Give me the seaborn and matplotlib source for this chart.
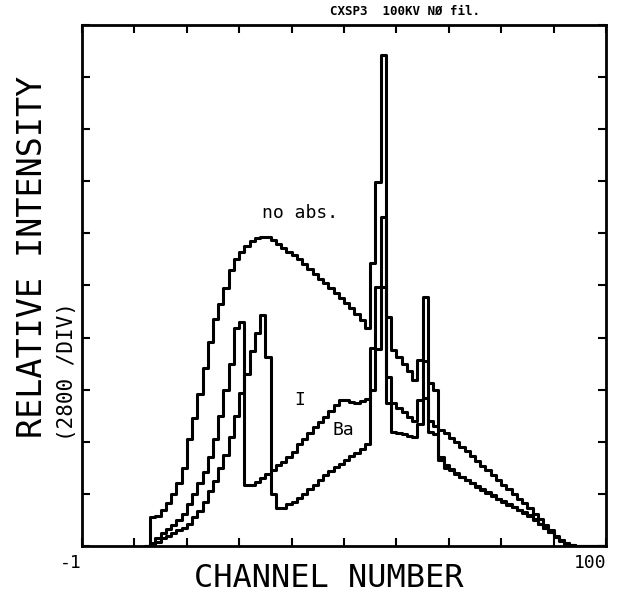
import numpy as np
import pandas as pd
import matplotlib
matplotlib.use("Agg")
import matplotlib.pyplot as plt
import seaborn as sns

# ---- data (relative intensity in divisions of 2800 counts) ----
channels = list(range(12, 101))

no_abs = [0.00,
          0.56, 0.58, 0.70, 0.82, 1.00, 1.20, 1.50, 2.05, 2.45, 2.92,
          3.42, 3.92, 4.35, 4.65, 4.95, 5.30, 5.50, 5.65, 5.76, 5.85,
          5.92, 5.94, 5.93, 5.87, 5.80, 5.72, 5.65, 5.58, 5.50, 5.42,
          5.32, 5.22, 5.12, 5.04, 4.95, 4.86, 4.76, 4.66, 4.56, 4.46,
          4.34, 4.18, 5.43, 6.99, 9.43, 4.40, 3.76, 3.62, 3.50, 3.36,
          3.18, 3.57, 4.78, 3.13, 2.99, 2.23, 2.16, 2.08, 2.00, 1.90,
          1.82, 1.72, 1.63, 1.54, 1.45, 1.36, 1.27, 1.18, 1.09, 1.00,
          0.91, 0.82, 0.73, 0.62, 0.51, 0.40, 0.30, 0.20, 0.12, 0.05,
          0.02, 0.00, 0.00, 0.00, 0.00, 0.00, 0.00, 0.00]

iodine = [0.00,
          0.05, 0.15, 0.25, 0.33, 0.40, 0.50, 0.62, 0.80, 1.00, 1.20,
          1.42, 1.70, 2.05, 2.50, 3.00, 3.50, 4.18, 4.30, 1.17, 1.17,
          1.22, 1.30, 1.38, 1.46, 1.55, 1.62, 1.71, 1.80, 1.95, 2.05,
          2.17, 2.28, 2.38, 2.48, 2.60, 2.70, 2.80, 2.80, 2.76, 2.74,
          2.78, 2.82, 3.80, 4.97, 6.31, 3.24, 2.74, 2.65, 2.57, 2.48,
          2.40, 2.80, 3.55, 2.40, 2.30, 1.71, 1.55, 1.47, 1.40, 1.33,
          1.27, 1.21, 1.15, 1.09, 1.03, 0.97, 0.91, 0.86, 0.80, 0.75,
          0.70, 0.65, 0.59, 0.51, 0.43, 0.35, 0.27, 0.18, 0.11, 0.05,
          0.01, 0.00, 0.00, 0.00, 0.00, 0.00, 0.00, 0.00]

barium = [0.00,
          0.03, 0.08, 0.15, 0.20, 0.25, 0.30, 0.35, 0.42, 0.55, 0.68,
          0.85, 1.05, 1.25, 1.50, 1.75, 2.10, 2.50, 2.94, 3.30, 3.75,
          4.09, 4.43, 3.63, 1.00, 0.73, 0.73, 0.80, 0.85, 0.92, 1.00,
          1.10, 1.18, 1.27, 1.36, 1.44, 1.52, 1.58, 1.65, 1.72, 1.78,
          1.86, 1.95, 3.00, 3.78, 4.97, 2.74, 2.19, 2.17, 2.15, 2.12,
          2.10, 2.35, 2.85, 2.19, 2.15, 1.65, 1.50, 1.45, 1.38, 1.32,
          1.26, 1.20, 1.14, 1.08, 1.02, 0.96, 0.90, 0.85, 0.79, 0.74,
          0.69, 0.64, 0.58, 0.50, 0.42, 0.34, 0.26, 0.17, 0.10, 0.04,
          0.01, 0.00, 0.00, 0.00, 0.00, 0.00, 0.00, 0.00]

series_names = ["no abs.", "I", "Ba"]
x_tick_values = list(range(0, 101, 10))
x_tick_labels = ["-1", "", "", "", "", "", "", "", "", "", "100"]
y_tick_values = list(range(0, 11))

df = pd.concat([
    pd.DataFrame({"channel": channels, "intensity": vals, "series": name})
    for name, vals in zip(series_names, [no_abs, iodine, barium])
], ignore_index=True)

# ---- style ----
sns.set_theme(style="white")
plt.rcParams["font.family"] = ["DejaVu Sans Mono", "DejaVu Sans"]
plt.rcParams["text.color"] = "black"
plt.rcParams["axes.labelcolor"] = "black"
plt.rcParams["xtick.color"] = "black"
plt.rcParams["ytick.color"] = "black"
plt.rcParams["xtick.direction"] = "in"
plt.rcParams["ytick.direction"] = "in"

fig = plt.figure(figsize=(6.28, 5.96), dpi=100)
ax = fig.add_axes([0.1306, 0.0839, 0.8344, 0.8742])

sns.lineplot(data=df, x="channel", y="intensity", hue="series",
             palette={n: "black" for n in series_names},
             estimator=None, drawstyle="steps-post", linewidth=2.2,
             legend=False, ax=ax)

ax.set_xlim(0, 100)
ax.set_ylim(0, 10)
ax.set_xticks(x_tick_values)
ax.set_xticklabels(x_tick_labels, fontsize=13, color="black")
ax.set_yticks(y_tick_values)
ax.set_yticklabels([])
ax.set_xlabel("")
ax.set_ylabel("")
ax.tick_params(axis="both", which="both", direction="in", length=6, width=1.5,
               top=True, right=True, bottom=True, left=True, colors="black", pad=6)
lbls = ax.get_xticklabels()
lbls[0].set_ha("right")
lbls[-1].set_ha("right")
for s in ax.spines.values():
    s.set_linewidth(2.0)
    s.set_color("black")

# curve annotations
ax.text(41.6, 6.39, "no abs.", fontsize=13, ha="center", va="center", color="black")
ax.text(41.6, 2.80, "I", fontsize=13, ha="center", va="center", color="black")
ax.text(49.8, 2.23, "Ba", fontsize=13, ha="center", va="center", color="black")

# figure texts
fig.text(0.525, 0.981, "CXSP3  100KV NØ fil.", fontsize=9, fontweight="bold",
         ha="left", va="center", color="black")
fig.text(0.051, 0.569, "RELATIVE INTENSITY", fontsize=24, rotation=90,
         ha="center", va="center", color="black")
fig.text(0.107, 0.376, "(2800 /DIV)", fontsize=15, rotation=90,
         ha="center", va="center", color="black")
fig.text(0.524, 0.030, "CHANNEL NUMBER", fontsize=23, ha="center", va="center",
         color="black")

fig.savefig("out.png", dpi=100, facecolor="white")
